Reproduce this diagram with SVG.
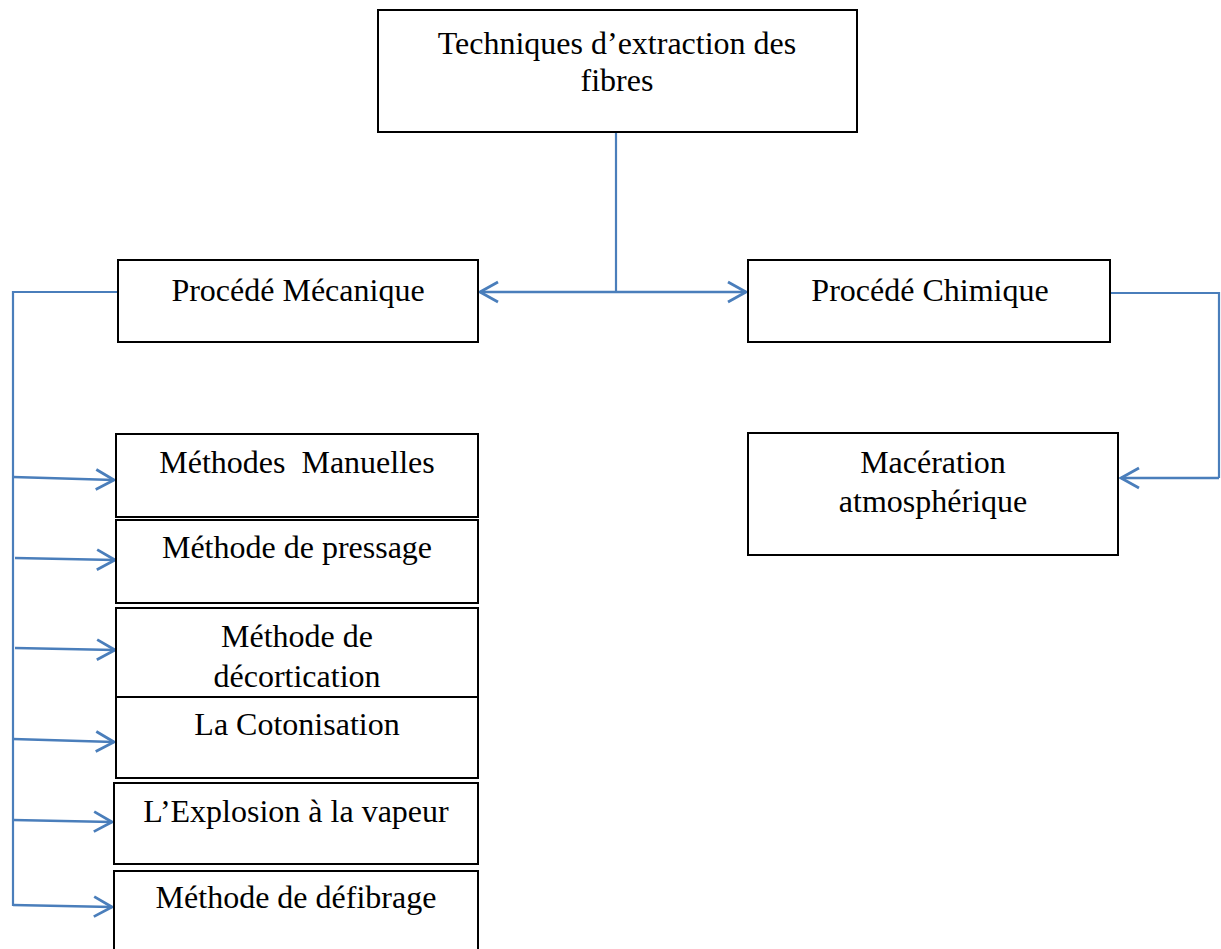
<svg xmlns="http://www.w3.org/2000/svg" width="1221" height="949" viewBox="0 0 1221 949">
  <style>
    .box { fill: #ffffff; stroke: #000000; stroke-width: 2; }
    .lbl { font-family: "Liberation Serif", "Times New Roman", serif; font-size: 32px; fill: #000000; text-anchor: middle; }
    .link { fill: none; stroke: #4a7ebb; stroke-width: 2.2; }
    .arr { stroke-width: 2.6; marker-end: url(#openArrow); }
  </style>
  <defs>
    <marker id="openArrow" viewBox="0 0 22 24" refX="20" refY="12" markerWidth="22" markerHeight="24" markerUnits="userSpaceOnUse" orient="auto">
      <path d="M2,2 L20,12 L2,22" fill="none" stroke="#4a7ebb" stroke-width="2.8"/>
    </marker>
  </defs>

  <rect width="1221" height="949" fill="#ffffff"/>

  <!-- connectors -->
  <g id="connectors">
    <!-- root to the two processes -->
    <line class="link" x1="616" y1="132" x2="616" y2="292"/>
    <line class="link arr" x1="616" y1="292" x2="480" y2="292"/>
    <line class="link arr" x1="616" y1="292" x2="746" y2="292"/>
    <!-- mechanical branch -->
    <polyline class="link" points="118,292 13,292 13,906"/>
    <line class="link arr" x1="13" y1="477" x2="114" y2="480"/>
    <line class="link arr" x1="15" y1="558" x2="115" y2="560"/>
    <line class="link arr" x1="15" y1="648" x2="115" y2="650"/>
    <line class="link arr" x1="13" y1="739" x2="114" y2="742"/>
    <line class="link arr" x1="13" y1="820" x2="112" y2="822"/>
    <line class="link arr" x1="13" y1="905" x2="112" y2="907"/>
    <!-- chemical branch -->
    <polyline class="link" points="1111,293 1219,293 1219,478"/>
    <line class="link arr" x1="1219" y1="478" x2="1121" y2="478"/>
  </g>

  <g id="root">
    <rect class="box" x="378" y="10" width="479" height="122"/>
    <text class="lbl" x="617" y="54">Techniques d’extraction des</text>
    <text class="lbl" x="617" y="91">fibres</text>
  </g>

  <g id="procede-mecanique">
    <rect class="box" x="118" y="260" width="360" height="82"/>
    <text class="lbl" x="298" y="301">Procédé Mécanique</text>
  </g>

  <g id="procede-chimique">
    <rect class="box" x="748" y="260" width="362" height="82"/>
    <text class="lbl" x="930" y="301">Procédé Chimique</text>
  </g>

  <g id="maceration">
    <rect class="box" x="748" y="433" width="370" height="122"/>
    <text class="lbl" x="933" y="473">Macération</text>
    <text class="lbl" x="933" y="512">atmosphérique</text>
  </g>

  <g id="methodes-manuelles">
    <rect class="box" x="116" y="434" width="362" height="83"/>
    <text class="lbl" x="297" y="473" xml:space="preserve">Méthodes  Manuelles</text>
  </g>

  <g id="methode-pressage">
    <rect class="box" x="116" y="520" width="362" height="83"/>
    <text class="lbl" x="297" y="558">Méthode de pressage</text>
  </g>

  <g id="methode-decortication">
    <rect class="box" x="116" y="608" width="362" height="89"/>
    <text class="lbl" x="297" y="647">Méthode de</text>
    <text class="lbl" x="297" y="687">décortication</text>
  </g>

  <g id="cotonisation">
    <rect class="box" x="116" y="697" width="362" height="81"/>
    <text class="lbl" x="297" y="735">La Cotonisation</text>
  </g>

  <g id="explosion-vapeur">
    <rect class="box" x="114" y="783" width="364" height="81"/>
    <text class="lbl" x="296" y="822">L’Explosion à la vapeur</text>
  </g>

  <g id="methode-defibrage">
    <rect class="box" x="114" y="871" width="364" height="90"/>
    <text class="lbl" x="296" y="908">Méthode de défibrage</text>
  </g>
</svg>
